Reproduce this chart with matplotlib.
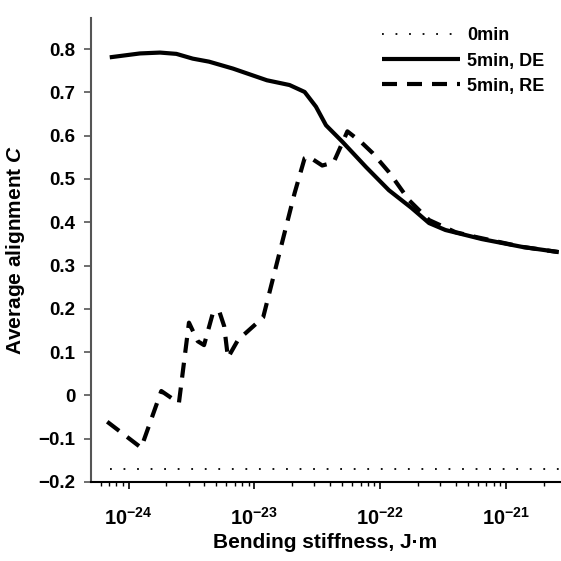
import numpy as np
import matplotlib
matplotlib.use("Agg")
import matplotlib.pyplot as plt
from matplotlib.ticker import FuncFormatter, LogLocator, FixedLocator

# log10 of bending stiffness (J·m) and average alignment C
de_logk = [-24.15, -23.91, -23.75, -23.62, -23.49, -23.36, -23.17, -22.90,
           -22.72, -22.60, -22.51, -22.43, -22.30, -22.11, -21.93, -21.75,
           -21.61, -21.48, -21.19, -20.87, -20.58]
de_c = [0.781, 0.790, 0.792, 0.789, 0.778, 0.771, 0.755, 0.728,
        0.717, 0.701, 0.667, 0.624, 0.586, 0.527, 0.474, 0.433,
        0.398, 0.382, 0.361, 0.343, 0.331]

re_logk = [-24.17, -23.90, -23.74, -23.60, -23.52, -23.45, -23.40, -23.33,
           -23.28, -23.24, -23.21, -23.13, -22.93, -22.68, -22.60, -22.57,
           -22.46, -22.37, -22.29, -22.26, -22.15, -22.06, -21.93, -21.77,
           -21.61, -21.40, -21.24, -20.87, -20.58]
re_c = [-0.061, -0.121, 0.010, -0.018, 0.168, 0.125, 0.116, 0.190,
        0.195, 0.160, 0.087, 0.128, 0.180, 0.467, 0.548, 0.552,
        0.531, 0.538, 0.590, 0.610, 0.585, 0.560, 0.516, 0.451,
        0.405, 0.377, 0.366, 0.343, 0.331]

zero_logk = [-24.15, -20.58]
zero_c = [-0.17, -0.17]

x_ticks = [1e-24, 1e-23, 1e-22, 1e-21]
y_ticks = [-0.2, -0.1, 0, 0.1, 0.2, 0.3, 0.4, 0.5, 0.6, 0.7, 0.8]


def y_fmt(v, pos):
    if abs(v) < 1e-9:
        return "0"
    return ("%.1f" % v).replace("-", "\u2212")


def x_fmt(v, pos):
    return r"$\mathbf{10^{%d}}$" % round(np.log10(v))


def main():
    plt.rcParams["font.family"] = "Liberation Sans"
    plt.rcParams["font.weight"] = "bold"
    plt.rcParams["mathtext.fontset"] = "custom"
    plt.rcParams["mathtext.bf"] = "Liberation Sans:bold"
    plt.rcParams["mathtext.rm"] = "Liberation Sans:bold"
    plt.rcParams["mathtext.it"] = "Liberation Sans:italic:bold"

    fig = plt.figure(figsize=(5.61, 5.61), dpi=100)
    ax = fig.add_axes([0.162, 0.141, 0.836, 0.827])

    ax.plot(10.0 ** np.array(zero_logk), zero_c, color="k", lw=1.3,
            dashes=(1, 6.5), dash_capstyle="butt", label="0min")
    ax.plot(10.0 ** np.array(de_logk), de_c, color="k", lw=3.0,
            solid_capstyle="butt", label="5min, DE")
    ax.plot(10.0 ** np.array(re_logk), re_c, color="k", lw=3.0,
            dashes=(3.6, 2.4), dash_capstyle="butt", label="5min, RE")

    ax.set_xscale("log")
    ax.set_xlim(10 ** -24.30, 10 ** -20.57)
    ax.set_ylim(-0.2, 0.872)
    ax.yaxis.set_major_locator(FixedLocator(y_ticks))
    ax.yaxis.set_major_formatter(FuncFormatter(y_fmt))
    ax.xaxis.set_major_locator(FixedLocator(x_ticks))
    ax.xaxis.set_minor_locator(LogLocator(base=10, subs=np.arange(2, 10)))
    ax.xaxis.set_major_formatter(FuncFormatter(x_fmt))

    for s in ["top", "right"]:
        ax.spines[s].set_visible(False)
    ax.spines["left"].set_color("#555555")
    ax.spines["left"].set_linewidth(1.5)
    ax.spines["bottom"].set_linewidth(1.5)
    ax.tick_params(axis="y", direction="out", length=5, width=1.2,
                   color="#555555", labelsize=13.5, pad=6)
    ax.tick_params(axis="x", which="major", direction="out", length=5,
                   width=1.2, labelsize=14.5, pad=13)
    ax.tick_params(axis="x", which="minor", direction="out", length=3,
                   width=1.0)

    ax.set_xlabel("Bending stiffness, J\u00b7m", fontsize=15,
                  fontweight="bold", labelpad=3)
    ax.set_ylabel("Average alignment $C$", fontsize=15,
                  fontweight="bold", labelpad=8)

    ax.legend(loc="upper right", frameon=False, fontsize=13,
              handlelength=4.3, handletextpad=0.4, labelspacing=0.45,
              borderaxespad=0.0, bbox_to_anchor=(0.983, 0.995))

    fig.savefig("out.png", dpi=100)
    return 0


if __name__ == "__main__":
    main()
